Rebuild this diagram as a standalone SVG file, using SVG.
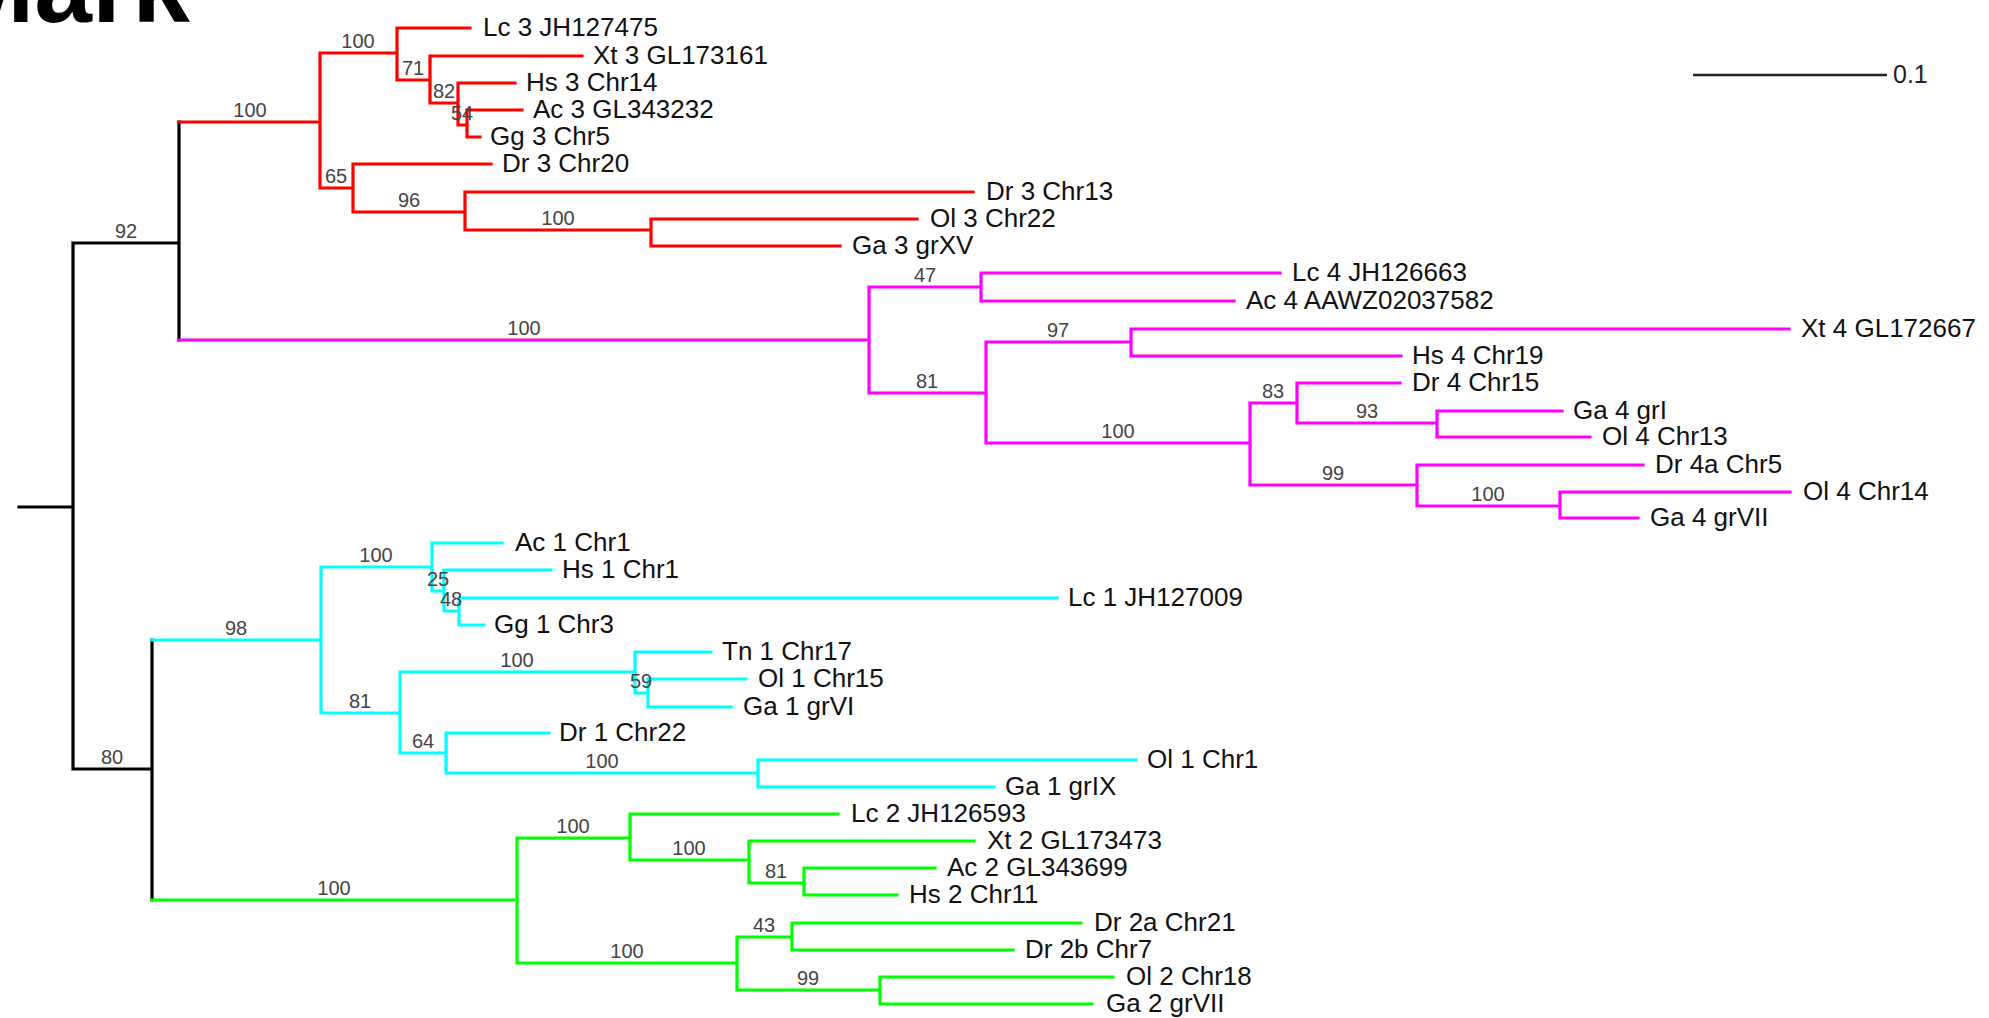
<svg xmlns="http://www.w3.org/2000/svg" width="1989" height="1018" viewBox="0 0 1989 1018">
<style>
.br{fill:none;stroke-width:3.2;stroke-linecap:square;stroke-linejoin:miter}
.k{stroke:#000}.r{stroke:#ff0000}.m{stroke:#ff00ff}.c{stroke:#00ffff}.g{stroke:#00ff00}
.leaf{font-family:"Liberation Sans",Arial,sans-serif;font-size:26px;fill:#111}
.bs{font-family:"Liberation Sans",Arial,sans-serif;font-size:20px;fill:#444;text-anchor:middle}
.title{font-family:"Liberation Sans",Arial,sans-serif;font-size:105px;font-weight:bold;fill:#000}
</style>
<rect width="1989" height="1018" fill="#fff"/>
<text class="title" x="-52" y="22" textLength="242" lengthAdjust="spacingAndGlyphs">Mark</text>
<g id="scale-bar">
<line x1="1693" y1="75" x2="1887" y2="75" stroke="#222" stroke-width="2.5"/>
<text x="1893" y="83" font-family="Liberation Sans, Arial, sans-serif" font-size="25" fill="#222">0.1</text>
</g>
<g id="connectors">
<path class="br k" d="M19 507H73M73 243V769M73 243H179M179 122V340M73 769H152M152 640V900"/>
<path class="br r" d="M179 122H320M320 53V188M320 53H397M397 28V80M397 28H470M397 80H430M430 56V103M430 56H582M430 103H458M458 83V125M458 83H515M458 125H467M467 110V137M467 110H522M467 137H480M320 188H353M353 164V212M353 164H491M353 212H465M465 192V230M465 192H973M465 230H651M651 219V246M651 219H917M651 246H840"/>
<path class="br m" d="M179 340H869M869 287V393M869 287H981M981 273V301M981 273H1280M981 301H1234M869 393H986M986 342V443M986 342H1131M1131 329V356M1131 329H1789M1131 356H1401M986 443H1250M1250 403V485M1250 403H1297M1297 383V423M1297 383H1400M1297 423H1437M1437 411V437M1437 411H1562M1437 437H1590M1250 485H1417M1417 465V506M1417 465H1643M1417 506H1560M1560 492V518M1560 492H1790M1560 518H1638"/>
<path class="br c" d="M152 640H321M321 567V713M321 567H432M432 543V591M432 543H502M432 591H444M444 570V611M444 570H551M444 611H459M459 598V625M459 598H1057M459 625H484M321 713H400M400 672V753M400 672H635M635 652V693M635 652H711M635 693H648M648 679V707M648 679H746M648 707H731M400 753H446M446 733V773M446 733H549M446 773H758M758 760V787M758 760H1136M758 787H994"/>
<path class="br g" d="M152 900H517M517 838V963M517 838H630M630 814V860M630 814H838M630 860H749M749 841V883M749 841H974M749 883H804M804 868V895M804 868H935M804 895H897M517 963H737M737 937V990M737 937H792M792 923V950M792 923H1081M792 950H1013M737 990H880M880 977V1004M880 977H1113M880 1004H1092"/>
</g>
<g id="support-values">
<text class="bs" x="126" y="238">92</text>
<text class="bs" x="112" y="764">80</text>
<text class="bs" x="250" y="117">100</text>
<text class="bs" x="358" y="48">100</text>
<text class="bs" x="413" y="75">71</text>
<text class="bs" x="444" y="98">82</text>
<text class="bs" x="462" y="120">54</text>
<text class="bs" x="336" y="183">65</text>
<text class="bs" x="409" y="207">96</text>
<text class="bs" x="558" y="225">100</text>
<text class="bs" x="524" y="335">100</text>
<text class="bs" x="925" y="282">47</text>
<text class="bs" x="927" y="388">81</text>
<text class="bs" x="1058" y="337">97</text>
<text class="bs" x="1118" y="438">100</text>
<text class="bs" x="1273" y="398">83</text>
<text class="bs" x="1367" y="418">93</text>
<text class="bs" x="1333" y="480">99</text>
<text class="bs" x="1488" y="501">100</text>
<text class="bs" x="236" y="635">98</text>
<text class="bs" x="376" y="562">100</text>
<text class="bs" x="438" y="586">25</text>
<text class="bs" x="451" y="606">48</text>
<text class="bs" x="360" y="708">81</text>
<text class="bs" x="517" y="667">100</text>
<text class="bs" x="641" y="688">59</text>
<text class="bs" x="423" y="748">64</text>
<text class="bs" x="602" y="768">100</text>
<text class="bs" x="334" y="895">100</text>
<text class="bs" x="573" y="833">100</text>
<text class="bs" x="689" y="855">100</text>
<text class="bs" x="776" y="878">81</text>
<text class="bs" x="627" y="958">100</text>
<text class="bs" x="764" y="932">43</text>
<text class="bs" x="808" y="985">99</text>
</g>
<g id="leaf-lc3"><text class="leaf" x="483" y="36">Lc 3 JH127475</text></g>
<g id="leaf-xt3"><text class="leaf" x="593" y="64">Xt 3 GL173161</text></g>
<g id="leaf-hs3"><text class="leaf" x="526" y="91">Hs 3 Chr14</text></g>
<g id="leaf-ac3"><text class="leaf" x="533" y="118">Ac 3 GL343232</text></g>
<g id="leaf-gg3"><text class="leaf" x="490" y="145">Gg 3 Chr5</text></g>
<g id="leaf-dr3-20"><text class="leaf" x="502" y="172">Dr 3 Chr20</text></g>
<g id="leaf-dr3-13"><text class="leaf" x="986" y="200">Dr 3 Chr13</text></g>
<g id="leaf-ol3"><text class="leaf" x="930" y="227">Ol 3 Chr22</text></g>
<g id="leaf-ga3"><text class="leaf" x="852" y="254">Ga 3 grXV</text></g>
<g id="leaf-lc4"><text class="leaf" x="1292" y="281">Lc 4 JH126663</text></g>
<g id="leaf-ac4"><text class="leaf" x="1246" y="309">Ac 4 AAWZ02037582</text></g>
<g id="leaf-xt4"><text class="leaf" x="1801" y="337">Xt 4 GL172667</text></g>
<g id="leaf-hs4"><text class="leaf" x="1412" y="364">Hs 4 Chr19</text></g>
<g id="leaf-dr4"><text class="leaf" x="1412" y="391">Dr 4 Chr15</text></g>
<g id="leaf-ga4i"><text class="leaf" x="1573" y="419">Ga 4 grI</text></g>
<g id="leaf-ol4-13"><text class="leaf" x="1602" y="445">Ol 4 Chr13</text></g>
<g id="leaf-dr4a"><text class="leaf" x="1655" y="473">Dr 4a Chr5</text></g>
<g id="leaf-ol4-14"><text class="leaf" x="1803" y="500">Ol 4 Chr14</text></g>
<g id="leaf-ga4vii"><text class="leaf" x="1650" y="526">Ga 4 grVII</text></g>
<g id="leaf-ac1"><text class="leaf" x="515" y="551">Ac 1 Chr1</text></g>
<g id="leaf-hs1"><text class="leaf" x="562" y="578">Hs 1 Chr1</text></g>
<g id="leaf-lc1"><text class="leaf" x="1068" y="606">Lc 1 JH127009</text></g>
<g id="leaf-gg1"><text class="leaf" x="494" y="633">Gg 1 Chr3</text></g>
<g id="leaf-tn1"><text class="leaf" x="722" y="660">Tn 1 Chr17</text></g>
<g id="leaf-ol1-15"><text class="leaf" x="758" y="687">Ol 1 Chr15</text></g>
<g id="leaf-ga1vi"><text class="leaf" x="743" y="715">Ga 1 grVI</text></g>
<g id="leaf-dr1"><text class="leaf" x="559" y="741">Dr 1 Chr22</text></g>
<g id="leaf-ol1-1"><text class="leaf" x="1147" y="768">Ol 1 Chr1</text></g>
<g id="leaf-ga1ix"><text class="leaf" x="1005" y="795">Ga 1 grIX</text></g>
<g id="leaf-lc2"><text class="leaf" x="851" y="822">Lc 2 JH126593</text></g>
<g id="leaf-xt2"><text class="leaf" x="987" y="849">Xt 2 GL173473</text></g>
<g id="leaf-ac2"><text class="leaf" x="947" y="876">Ac 2 GL343699</text></g>
<g id="leaf-hs2"><text class="leaf" x="909" y="903">Hs 2 Chr11</text></g>
<g id="leaf-dr2a"><text class="leaf" x="1094" y="931">Dr 2a Chr21</text></g>
<g id="leaf-dr2b"><text class="leaf" x="1025" y="958">Dr 2b Chr7</text></g>
<g id="leaf-ol2"><text class="leaf" x="1126" y="985">Ol 2 Chr18</text></g>
<g id="leaf-ga2"><text class="leaf" x="1106" y="1012">Ga 2 grVII</text></g>
</svg>
